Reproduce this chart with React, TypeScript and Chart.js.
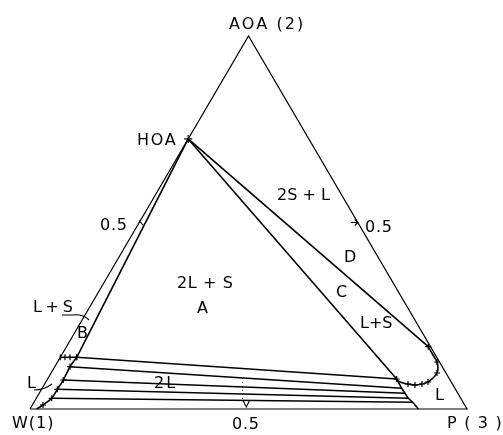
import React, { useEffect, useRef } from "react";
import { Chart, registerables } from "chart.js";

Chart.register(...registerables);

// Compositions as [P fraction, AOA fraction]; W = 1 - P - AOA
const vertices: number[][] = [[0, 0], [1, 0], [0, 1], [0, 0]];
const HOA: number[] = [0, 0.724];
const leftBinodal: number[][] = [
  [0.0376, 0.1386], [0.0348, 0.1134], [0.0373, 0.0777], [0.0361, 0.0528],
  [0.0354, 0.0287], [0.0244, 0.0107], [0.0153, 0],
];
const rightBinodal: number[][] = [
  [0.7989, 0.0804], [0.8229, 0.0555], [0.8371, 0.0421], [0.8514, 0.0287],
  [0.8667, 0.018], [0.8886, 0],
];
const loopCurve: number[][] = [
  [0.8279, 0.167], [0.8498, 0.1448], [0.8684, 0.126], [0.8786, 0.1099],
  [0.8831, 0.0965], [0.8806, 0.0831], [0.8746, 0.0724], [0.8635, 0.067],
  [0.8488, 0.0643], [0.8315, 0.067], [0.8186, 0.0697], [0.8046, 0.0751],
  [0.7989, 0.0804],
];
const loopTicks: number[] = [1, 0, 1, 0, 1, 0, 1, 1, 1, 1, 0, 0, 1];
const topSegment: number[][] = [[0, 0.1386], [0.0108, 0.1386], [0.0222, 0.1386], [0.0376, 0.1386]];
const tieCount = 5;
const breakLine: number[][] = [[0.445, 0.083], [0.477, 0.019]];

const LABEL_FONT = '"DejaVu Sans", sans-serif';
const labels = [
  { t: "AOA (2)", x: 229, y: 29, s: 2.1 },
  { t: "HOA", x: 137, y: 145, s: 1.7 },
  { t: "0.5", x: 100, y: 230, s: 0.8 },
  { t: "2L + S", x: 177, y: 288, s: 0.6 },
  { t: "A", x: 197, y: 313, s: 0 },
  { t: "L+S", x: 33, y: 312, s: 3.7 },
  { t: "B", x: 77, y: 338, s: 0 },
  { t: "L", x: 27, y: 388, s: 0 },
  { t: "2L", x: 154, y: 388, s: 2 },
  { t: "W(1)", x: 12, y: 428, s: 1 },
  { t: "0.5", x: 232, y: 429, s: 0.8 },
  { t: "P ( 3 )", x: 447, y: 428, s: 1.2 },
  { t: "2S + L", x: 277, y: 200, s: 0 },
  { t: "0.5", x: 365, y: 232, s: 0.8 },
  { t: "D", x: 344, y: 262, s: 0 },
  { t: "C", x: 336, y: 297, s: 0 },
  { t: "L+S", x: 360, y: 328, s: 0 },
  { t: "L", x: 435, y: 400, s: 0 },
];

const tern = (c: number[]) => ({ x: c[0] + c[1] / 2, y: c[1] });

export default function App() {
  const ref = useRef<HTMLCanvasElement>(null);
  useEffect(() => {
    if (!ref.current) return;
    const line = (pts: number[][], extra: any = {}) => ({
      data: pts.map(tern),
      showLine: true,
      borderColor: "#000",
      backgroundColor: "#000",
      borderWidth: 1.6,
      pointRadius: 0,
      pointStyle: "cross",
      pointBorderWidth: 1.2,
      fill: false,
      ...extra,
    });
    const ties = [];
    for (let i = 0; i < tieCount; i++) ties.push(line([leftBinodal[i], rightBinodal[i]], { borderWidth: 1.5 }));

    const annot = {
      id: "annot",
      afterDatasetsDraw(chart: any) {
        const ctx = chart.ctx;
        const xs = chart.scales.x, ys = chart.scales.y;
        const pix = (c: number[]) => [xs.getPixelForValue(c[0] + c[1] / 2), ys.getPixelForValue(c[1])];
        ctx.save();
        ctx.fillStyle = "#000";
        ctx.strokeStyle = "#000";
        ctx.font = `16px ${LABEL_FONT}`;
        ctx.textBaseline = "alphabetic";
        ctx.textAlign = "left";
        for (const l of labels) {
          (ctx as any).letterSpacing = `${l.s}px`;
          ctx.fillText(l.t, l.x, l.y);
        }
        (ctx as any).letterSpacing = "0px";
        ctx.lineWidth = 1.1;
        // underline of S and leader into band B
        ctx.beginPath();
        ctx.moveTo(62, 315);
        ctx.lineTo(72, 315);
        ctx.bezierCurveTo(80, 314, 85, 316, 89, 320);
        ctx.stroke();
        // leader for left L
        ctx.beginPath();
        ctx.moveTo(34, 390);
        ctx.quadraticCurveTo(44, 390, 52, 384);
        ctx.stroke();
        // 0.5 ticks
        const lt = pix([0, 0.5]);
        ctx.beginPath();
        ctx.moveTo(lt[0], lt[1] - 2);
        ctx.lineTo(lt[0] + 4, lt[1] + 3);
        ctx.stroke();
        const rt = pix([0.5, 0.5]);
        ctx.beginPath();
        ctx.moveTo(rt[0] - 7, rt[1]);
        ctx.lineTo(rt[0], rt[1]);
        ctx.moveTo(rt[0] - 3, rt[1] - 3);
        ctx.lineTo(rt[0], rt[1]);
        ctx.lineTo(rt[0] - 3, rt[1] + 3);
        ctx.stroke();
        const bt = pix([0.495, 0]);
        ctx.beginPath();
        ctx.moveTo(bt[0] - 3, bt[1] - 8);
        ctx.lineTo(bt[0], bt[1] - 2);
        ctx.lineTo(bt[0] + 3, bt[1] - 8);
        ctx.stroke();
        ctx.restore();
      },
    };

    const chart = new Chart(ref.current, {
      type: "scatter",
      data: {
        datasets: [
          line(vertices, { borderWidth: 1.2 }),
          line([HOA, leftBinodal[0]], { pointRadius: [4, 0] }),
          line([HOA, rightBinodal[0]]),
          line([HOA, loopCurve[0]]),
          line(loopCurve, { tension: 0.35, pointRadius: loopTicks.map((v) => v * 3) }),
          line(rightBinodal, { tension: 0.2 }),
          line(leftBinodal, { tension: 0.2, pointRadius: [3, 3, 3, 3, 3, 3, 0] }),
          line(topSegment, { pointStyle: "line", rotation: 90, pointRadius: 3 }),
          ...ties,
          line(breakLine, { borderWidth: 1, borderDash: [1, 3], borderColor: "#555" }),
        ] as any,
      },
      options: {
        animation: false,
        responsive: false,
        events: [],
        layout: { padding: 0, autoPadding: false } as any,
        plugins: { legend: { display: false }, tooltip: { enabled: false } },
        scales: {
          x: { type: "linear", display: false, min: -30 / 437, max: -30 / 437 + 503 / 437 },
          y: { type: "linear", display: false, min: 409 / 373 - 435 / 373, max: 409 / 373 },
        },
      },
      plugins: [annot],
    });
    return () => chart.destroy();
  }, []);
  return (
    <div style={{ position: "absolute", left: 0, top: 0, width: 503, height: 435, background: "#fff" }}>
      <canvas ref={ref} width={503} height={435} />
    </div>
  );
}
